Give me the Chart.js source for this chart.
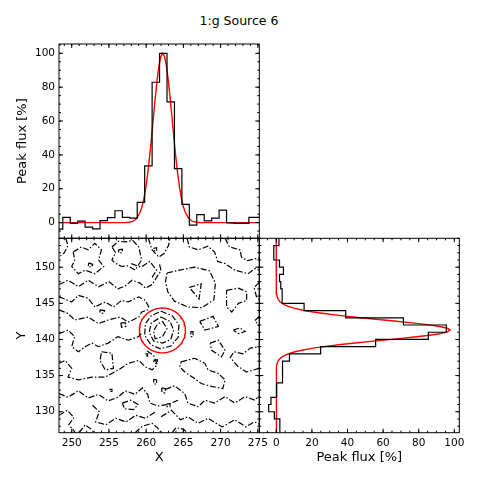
<!DOCTYPE html>
<html>
<head>
<meta charset="utf-8">
<script src="https://cdn.jsdelivr.net/npm/chart.js@4.4.1/dist/chart.umd.min.js"></script>
<style>
  html, body { margin: 0; padding: 0; background: #fff; }
  #wrap { position: relative; width: 478px; height: 482px; }
  #wrap canvas { position: absolute; left: 0; top: 0; }
  #title { position: absolute; left: 0; width: 478px; top: 13px; line-height: 15px;
           text-align: center; font: 12.5px 'DejaVu Sans'; color: #000; }
</style>
</head>
<body>
<div id="wrap">
  <div id="title">1:g Source 6</div>
  <canvas id="topChart" width="478" height="482"></canvas>
  <canvas id="mapChart" width="478" height="482"></canvas>
  <canvas id="sideChart" width="478" height="482"></canvas>
</div>
<script>
// axis ranges
const xRange = [248.29, 275.2];
const yRange = [127.1, 154.0];
const topRange = [-9.26, 105.5];
const sideRange = [-9.55, 102.8];

// tick labels
const xTicks = [250, 255, 260, 265, 270, 275];
const yTicks = [130, 135, 140, 145, 150];
const fluxTicks = [0, 20, 40, 60, 80, 100];

// profile along X (1 px bins, first bin starts at xBinStart)
const xBinStart = 247.8;
const xProfile = [-3.9, 3.1, -0.4, 0.9, -2.7, -3.7, 1.2, 3.0, 7.0, 3.1, 2.6, 12.0, 33.5, 82.9,
                  100.0, 71.3, 31.9, 10.8, -1.5, 4.7, 1.0, 2.6, 7.4, -0.2, -0.4, -0.4, 3.1, 3.1];

// profile along Y
const yBinStart = 127;
const yProfile = [2.0, 2.0, -1.1, -4.3, -3.0, 0.2, 0.2, 3.5, 3.5, 3.5, 7.4, 24.9, 55.8, 85.4,
                  95.5, 71.4, 39.0, 15.6, 3.3, 3.3, 2.5, 1.8, 4.0, 1.8, -1.4, -1.4, 1.5];

// fitted curves
const xFitX = [248.3, 256.2, 257.2, 257.7, 258.2, 258.72, 259.22, 259.47, 259.72, 259.97, 260.22,
               260.47, 260.72, 260.97, 261.22, 261.47, 261.72, 261.97, 262.22, 262.47, 262.72,
               262.97, 263.22, 263.47, 263.72, 263.97, 264.22, 264.47, 264.72, 264.97, 265.22,
               265.72, 266.22, 266.74, 267.24, 268.2, 275.2];
const xFitV = [0, 0, 0.05, 0.2, 0.7, 2.4, 6.4, 9.9, 14.8, 21.3, 29.5, 39.3, 50.3, 62.1, 73.7, 84.2,
               92.7, 98.1, 100, 98.1, 92.7, 84.2, 73.7, 62.1, 50.3, 39.3, 29.5, 21.3, 14.8, 9.9,
               6.4, 2.4, 0.7, 0.2, 0.05, 0, 0];
const yFitY = [127.1, 135.3, 135.8, 136.3, 136.8, 137.05, 137.3, 137.55, 137.8, 138.05, 138.3,
               138.55, 138.8, 139.05, 139.3, 139.55, 139.8, 140.05, 140.3, 140.55, 140.8, 141.05,
               141.3, 141.55, 141.8, 142.05, 142.3, 142.55, 142.8, 143.05, 143.3, 143.55, 143.8,
               144.05, 144.3, 144.55, 144.8, 145.05, 145.3, 145.55, 145.8, 146.3, 147.3, 154.0];
const yFitV = [0, 0, 0.05, 0.2, 0.6, 1.1, 1.8, 3.0, 4.7, 7.1, 10.5, 15.0, 20.7, 27.8, 36.2, 45.7,
               55.9, 66.3, 76.2, 84.9, 91.7, 96.1, 97.6, 96.1, 91.7, 84.9, 76.2, 66.3, 55.9, 45.7,
               36.2, 27.8, 20.7, 15.0, 10.5, 7.1, 4.7, 3.0, 1.8, 1.1, 0.6, 0.2, 0, 0];

// aperture circle
const apCenter = [262.18, 141.25];
const apRadius = 3.1;

// contour paths [x, y]
const contours = [
  [[249.2,154.0],[249.5,153.0],[249.0,152.0],[248.3,151.4]],
  [[250.2,152.1],[251.3,152.8],[252.2,152.4],[253.1,153.3],[254.0,152.4],[253.6,151.0],[254.3,150.1],[253.1,149.1],[251.8,149.6],[250.9,149.1],[250.0,150.1],[250.4,151.0],[250.2,152.1]],
  [[252.3,150.6],[252.8,150.4],[252.7,150.0],[252.2,150.1],[252.3,150.6]],
  [[255.4,152.8],[256.3,153.6],[257.2,153.5],[258.2,153.7],[259.0,152.8],[259.4,151.0],[258.5,149.6],[257.5,150.2],[256.7,150.1],[255.8,150.6],[255.4,151.0],[255.9,152.0],[255.4,152.8]],
  [[256.3,152.4],[256.8,152.5],[256.8,152.0],[256.3,152.0],[256.3,152.4]],
  [[260.3,154.0],[260.6,153.0],[260.8,152.4],[261.7,151.4],[262.4,151.9],[263.0,153.0],[263.2,154.0]],
  [[261.0,152.6],[261.4,152.7],[261.4,152.2],[261.0,152.3],[261.0,152.6]],
  [[248.3,147.6],[249.5,148.2],[250.9,147.3],[252.2,148.2],[253.6,147.3],[255.0,148.0],[256.2,147.0],[257.2,147.4],[258.1,148.2],[259.2,147.8],[259.9,147.1],[260.8,147.6],[261.4,148.6],[262.0,149.5],[261.8,150.4]],
  [[258.0,150.5],[259.3,150.0],[260.5,150.8],[261.4,149.6],[260.8,148.6]],
  [[248.3,145.9],[250.0,145.2],[250.9,146.1],[252.2,145.7],[253.1,144.5],[254.5,145.2],[255.6,144.5],[256.7,145.4],[257.6,145.2],[259.0,145.9],[259.9,145.4],[260.5,144.2]],
  [[248.3,144.1],[249.5,143.6],[250.4,142.7],[252.2,143.1],[253.6,142.2],[254.9,142.7],[256.5,143.1],[257.6,142.4],[259.0,143.1],[259.4,143.8],[260.5,144.2]],
  [[256.6,142.3],[257.2,142.3],[257.3,141.8],[256.7,141.7],[256.6,142.3]],
  [[253.8,144.1],[254.4,144.0],[254.3,143.6],[253.8,143.7],[253.8,144.1]],
  [[248.3,140.8],[249.5,141.3],[250.4,140.4],[250.0,139.0],[250.9,138.3],[251.8,139.0],[252.7,139.5],[253.6,139.0],[254.9,139.5],[256.2,140.4],[257.6,139.9],[259.0,140.4],[259.4,140.9]],
  [[254.0,138.3],[255.4,138.1],[255.6,136.0],[254.5,135.8],[253.8,137.1],[254.0,138.3]],
  [[248.3,136.7],[249.1,137.1],[250.0,136.0],[249.5,134.8],[250.9,134.4],[252.7,134.8],[254.5,134.8],[256.3,135.8],[257.6,136.7],[259.0,137.1],[259.9,136.2],[260.8,135.8],[261.5,136.5],[261.0,137.8],[260.0,138.5]],
  [[259.9,138.0],[260.2,138.0],[260.2,137.7],[259.9,137.8],[259.9,138.0]],
  [[261.0,137.1],[261.5,137.2],[261.5,136.7],[261.1,136.7],[261.0,137.1]],
  [[261.0,134.5],[261.4,134.4],[261.4,133.8],[261.0,133.9],[261.0,134.5]],
  [[262.1,133.3],[262.6,133.2],[262.5,132.6],[262.1,132.7],[262.1,133.3]],
  [[255.1,133.1],[255.4,133.1],[255.4,132.8],[255.1,132.8],[255.1,133.1]],
  [[248.3,132.5],[249.5,132.0],[250.9,132.9],[252.2,131.9],[253.6,132.4],[254.9,131.5],[256.2,132.0],[257.2,132.9],[258.5,132.4],[259.5,133.3],[260.2,132.4],[260.5,131.2],[261.6,130.8],[262.9,131.0],[264.3,131.6]],
  [[256.8,131.2],[257.9,131.6],[258.9,131.0],[258.3,130.3],[257.1,130.4],[256.8,131.2]],
  [[252.8,130.9],[253.7,130.0],[253.2,128.6],[254.6,128.2],[255.9,129.1],[257.3,128.6],[258.6,129.5],[259.9,129.1],[261.3,130.0]],
  [[248.3,129.5],[249.4,130.2],[250.3,129.2],[249.6,128.2],[250.5,127.1]],
  [[251.0,127.1],[251.8,128.2],[252.6,127.6],[253.0,127.1]],
  [[258.5,127.1],[259.5,128.0],[260.8,128.4],[261.5,127.8],[262.0,127.1]],
  [[263.5,127.1],[264.0,127.8],[265.0,127.6],[265.5,127.1]],
  [[262.6,133.1],[263.8,133.6],[265.2,132.5],[265.6,131.2],[267.0,130.7],[267.9,131.6],[269.2,131.2],[270.6,132.1],[271.9,131.2],[273.3,132.1],[274.6,131.6],[275.2,132.2]],
  [[262.0,129.3],[263.4,130.2],[264.6,128.9],[265.6,129.3],[267.0,128.4],[268.3,129.1],[270.2,127.9],[271.9,128.9],[273.4,127.9],[274.5,128.6],[275.2,128.3]],
  [[262.8,131.1],[263.2,131.1],[263.2,130.7],[262.8,130.7],[262.8,131.1]],
  [[264.7,136.9],[266.5,137.4],[267.9,136.7],[268.3,135.8],[269.7,135.3],[270.6,134.4],[270.3,133.2],[268.8,133.5],[267.4,133.9],[266.5,134.6],[265.2,135.5],[264.5,136.2],[264.7,136.9]],
  [[275.2,136.0],[273.5,135.5],[272.3,136.3],[271.3,137.5],[271.8,138.3],[273.0,138.0],[274.0,138.8],[275.2,139.0]],
  [[267.2,142.5],[269.0,143.2],[269.7,141.8],[267.9,141.3],[267.2,142.5]],
  [[271.7,141.3],[272.6,141.6],[273.3,141.1],[272.4,140.8],[271.7,141.3]],
  [[268.6,139.5],[269.7,139.9],[270.6,138.5],[270.1,137.6],[268.8,138.5],[268.6,139.5]],
  [[266.0,141.1],[266.3,141.1],[266.3,140.4],[266.0,140.4],[266.0,141.1]],
  [[275.2,143.2],[274.6,142.6],[275.2,141.9]],
  [[262.8,149.2],[264.5,149.6],[266.5,150.0],[268.5,149.5],[269.3,147.8],[269.1,145.5],[267.5,144.4],[265.6,144.5],[263.8,145.3],[262.9,146.6],[262.6,148.0],[262.8,149.2]],
  [[265.8,147.2],[267.4,147.7],[267.1,145.6],[265.8,147.2]],
  [[265.5,154.0],[265.8,152.8],[267.0,152.4],[268.3,152.9],[269.2,152.1],[269.6,150.8],[270.6,150.5],[271.9,149.6],[273.7,149.1],[274.6,149.8],[275.2,149.6]],
  [[270.6,154.0],[271.2,152.8],[272.6,152.4],[272.8,151.4],[273.6,150.9],[275.2,151.3]],
  [[270.8,146.8],[272.4,147.1],[273.5,146.6],[273.5,145.4],[272.4,145.0],[271.5,143.8],[270.8,144.5],[270.8,146.8]],
  [[275.2,147.9],[274.5,147.2],[274.8,146.0],[275.2,145.5]],
  // source contours
  [[262.0,143.9],[263.5,143.3],[264.4,142.0],[264.3,140.3],[263.3,139.1],[261.9,138.7],[260.6,139.3],[259.8,140.6],[259.9,142.2],[260.7,143.3],[262.0,143.9]],
  [[262.0,143.1],[263.2,142.5],[263.7,141.3],[263.3,140.0],[262.2,139.5],[261.0,139.8],[260.4,141.0],[260.7,142.3],[262.0,143.1]],
  [[262.2,142.5],[262.8,141.5],[262.2,140.4],[261.2,140.1],[261.0,141.2],[261.5,142.1],[262.2,142.5]]
];

function range(a, b, step) {
  const out = [];
  for (let v = a; v <= b + 1e-9; v += step) out.push(v);
  return out;
}

Chart.defaults.font.family = 'DejaVu Sans';
Chart.defaults.color = '#000';

// frame + inward ticks on all four sides
const frameTicks = {
  id: 'frameTicks',
  afterDraw(chart, args, o) {
    const {ctx, chartArea: a} = chart;
    const marks = (scale, vals, len) => {
      vals.forEach(v => {
        const p = scale.getPixelForValue(v);
        if (scale.isHorizontal()) {
          if (p < a.left - 0.5 || p > a.right + 0.5) return;
          ctx.moveTo(p, a.bottom); ctx.lineTo(p, a.bottom - len);
          ctx.moveTo(p, a.top); ctx.lineTo(p, a.top + len);
        } else {
          if (p < a.top - 0.5 || p > a.bottom + 0.5) return;
          ctx.moveTo(a.left, p); ctx.lineTo(a.left + len, p);
          ctx.moveTo(a.right, p); ctx.lineTo(a.right - len, p);
        }
      });
    };
    ctx.save();
    ctx.strokeStyle = '#000';
    ctx.lineWidth = 1;
    ctx.beginPath();
    marks(chart.scales.x, o.xMajor, 4);
    marks(chart.scales.x, o.xMinor, 2);
    marks(chart.scales.y, o.yMajor, 4);
    marks(chart.scales.y, o.yMinor, 2);
    ctx.stroke();
    ctx.strokeRect(a.left, a.top, a.right - a.left, a.bottom - a.top);
    ctx.restore();
  }
};

function axis(rng, ticks, opt) {
  opt = opt || {};
  return {
    type: 'linear',
    min: rng[0],
    max: rng[1],
    display: opt.display !== false,
    grid: { display: false, drawTicks: false },
    border: { display: false },
    afterBuildTicks: s => { s.ticks = ticks.map(v => ({ value: v })); },
    afterFit: s => {
      if (opt.width !== undefined) s.width = opt.width;
      if (opt.height !== undefined) s.height = opt.height;
    },
    ticks: { font: { size: 10.5 }, color: '#000', padding: 4, maxRotation: 0, autoSkip: false },
    title: opt.title ? {
      display: true, text: opt.title, color: '#000', font: { size: 13 },
      padding: opt.titlePad
    } : { display: false }
  };
}

function lineSet(points, color, width, extra) {
  return Object.assign({
    data: points, showLine: true, borderColor: color, borderWidth: width,
    pointRadius: 0, fill: false, tension: 0
  }, extra || {});
}

const baseOpts = {
  responsive: false,
  animation: false,
  events: [],
  plugins: { legend: { display: false }, tooltip: { enabled: false } }
};

// top: profile along X
const xHist = xProfile.map((v, i) => ({ x: xBinStart + i, y: v }));
xHist.push({ x: xBinStart + xProfile.length, y: xProfile[xProfile.length - 1] });

new Chart(document.getElementById('topChart'), {
  type: 'scatter',
  data: { datasets: [
    lineSet(xHist, '#000', 1.2, { stepped: 'before' }),
    lineSet(xFitX.map((x, i) => ({ x, y: xFitV[i] })), '#ff0000', 1.4)
  ]},
  options: Object.assign({}, baseOpts, {
    layout: { padding: { left: 0, top: 44, right: 218.7, bottom: 243.7 } },
    scales: {
      x: axis(xRange, xTicks, { display: false }),
      y: axis(topRange, fluxTicks, { width: 59, title: 'Peak flux [%]', titlePad: { top: 15 } })
    },
    plugins: Object.assign({}, baseOpts.plugins, {
      frameTicks: { xMajor: xTicks, xMinor: range(249, 275, 1), yMajor: fluxTicks, yMinor: range(-5, 105, 5) }
    })
  }),
  plugins: [frameTicks]
});

// map: contours + aperture
const circle = range(0, 360, 4).map(d => ({
  x: apCenter[0] + apRadius * Math.cos(d * Math.PI / 180),
  y: apCenter[1] + apRadius * Math.sin(d * Math.PI / 180)
}));

const mapSets = contours.map(c => lineSet(c.map(p => ({ x: p[0], y: p[1] })), '#000', 1.2,
  { borderDash: [6, 2, 1.5, 2] }));
mapSets.push(lineSet(circle, '#ff0000', 1.4));

new Chart(document.getElementById('mapChart'), {
  type: 'scatter',
  data: { datasets: mapSets },
  options: Object.assign({}, baseOpts, {
    layout: { padding: { left: 0, top: 238.3, right: 218.7, bottom: 0 } },
    scales: {
      x: axis(xRange, xTicks, { height: 49.3, title: 'X', titlePad: { bottom: 17 } }),
      y: axis(yRange, yTicks, { width: 59, title: 'Y', titlePad: { top: 14 } })
    },
    plugins: Object.assign({}, baseOpts.plugins, {
      frameTicks: { xMajor: xTicks, xMinor: range(249, 275, 1), yMajor: yTicks, yMinor: range(128, 154, 1) }
    })
  }),
  plugins: [frameTicks]
});

// side: profile along Y
const yHist = yProfile.map((v, i) => ({ x: v, y: yBinStart + i }));
yHist.push({ x: yProfile[yProfile.length - 1], y: yBinStart + yProfile.length });

new Chart(document.getElementById('sideChart'), {
  type: 'scatter',
  data: { datasets: [
    lineSet(yHist, '#000', 1.2, { stepped: 'after' }),
    lineSet(yFitY.map((y, i) => ({ x: yFitV[i], y })), '#ff0000', 1.4)
  ]},
  options: Object.assign({}, baseOpts, {
    layout: { padding: { left: 259.3, top: 238.3, right: 18.7, bottom: 0 } },
    scales: {
      x: axis(sideRange, fluxTicks, { height: 49.3, title: 'Peak flux [%]', titlePad: { bottom: 17 } }),
      y: axis(yRange, yTicks, { display: false })
    },
    plugins: Object.assign({}, baseOpts.plugins, {
      frameTicks: { xMajor: fluxTicks, xMinor: range(-5, 100, 5), yMajor: yTicks, yMinor: range(128, 154, 1) }
    })
  }),
  plugins: [frameTicks]
});
</script>
</body>
</html>
